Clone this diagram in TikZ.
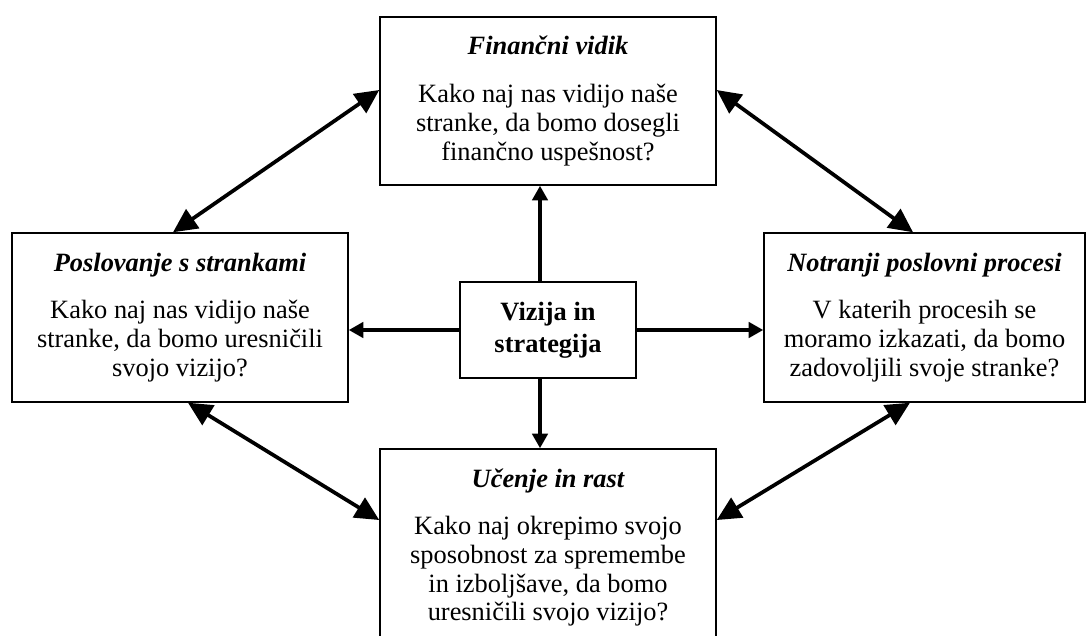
\documentclass[tikz,border=0pt]{standalone}
\usepackage{fontspec}
\setmainfont{Liberation Serif}
\usetikzlibrary{arrows.meta}
\tikzset{
  box/.style={draw, line width=1.1pt, align=center, inner sep=0pt,
    font=\fontsize{19.8pt}{21.6pt}\selectfont},
  wide/.style={minimum width=252pt, minimum height=126.75pt},
  diag/.style={line width=2.8pt, {Triangle[length=18pt,width=17pt]}-{Triangle[length=18pt,width=17pt]}},
  spoke/.style={line width=3pt, -{Triangle[length=11pt,width=11.5pt]}}
}
\begin{document}
\begin{tikzpicture}[x=0.75pt,y=-0.75pt]
\useasboundingbox (0,0) rectangle (1088,635);
\clip (0,0) rectangle (1088,635);

% the four perspectives
\node[box, wide, minimum height=126pt] (fin) at (548,101)
  {{\bfseries\itshape Finančni vidik}\\[14pt]
   Kako naj nas vidijo naše\\ stranke, da bomo dosegli\\ finančno uspešnost?};
\node[box, wide] (cust) at (180,317.5)
  {{\bfseries\itshape Poslovanje s strankami}\\[14pt]
   Kako naj nas vidijo naše\\ stranke, da bomo uresničili\\ svojo vizijo?};
\node[box, wide, minimum width=240.75pt] (proc) at (924.5,317.5)
  {{\bfseries\itshape Notranji poslovni procesi}\\[14pt]
   V katerih procesih se\\ moramo izkazati, da bomo\\ zadovoljili svoje stranke?};
\node[box, wide, minimum height=147.75pt] (learn) at (548,547.5)
  {{\bfseries\itshape Učenje in rast}\\[14pt]
   Kako naj okrepimo svojo\\ sposobnost za spremembe\\ in izboljšave, da bomo\\ uresničili svojo vizijo?};

% vision and strategy in the middle
\node[box, minimum width=132pt, minimum height=72pt,
      font=\fontsize{19.8pt}{24pt}\selectfont\bfseries] (ctr) at (548,330)
  {Vizija in\\ strategija};

% spokes from the centre
\draw[spoke] ([xshift=-6pt]ctr.north) -- ([xshift=-6pt]ctr.north |- fin.south);
\draw[spoke] ([xshift=-6pt]ctr.south) -- ([xshift=-6pt]ctr.south |- learn.north);
\draw[spoke] (ctr.west) -- (ctr.west -| cust.east);
\draw[spoke] (ctr.east) -- (ctr.east -| proc.west);

% links around the ring
\draw[diag] ([yshift=8.25pt]fin.west) -- ([xshift=-5.25pt]cust.north);
\draw[diag] ([xshift=6pt]cust.south) -- ([yshift=20.6pt]learn.west);
\draw[diag] ([xshift=-10.9pt]proc.south) -- ([yshift=20.6pt]learn.east);
\draw[diag] ([yshift=8.25pt]fin.east) -- ([xshift=-8.6pt]proc.north);
\end{tikzpicture}
\end{document}
